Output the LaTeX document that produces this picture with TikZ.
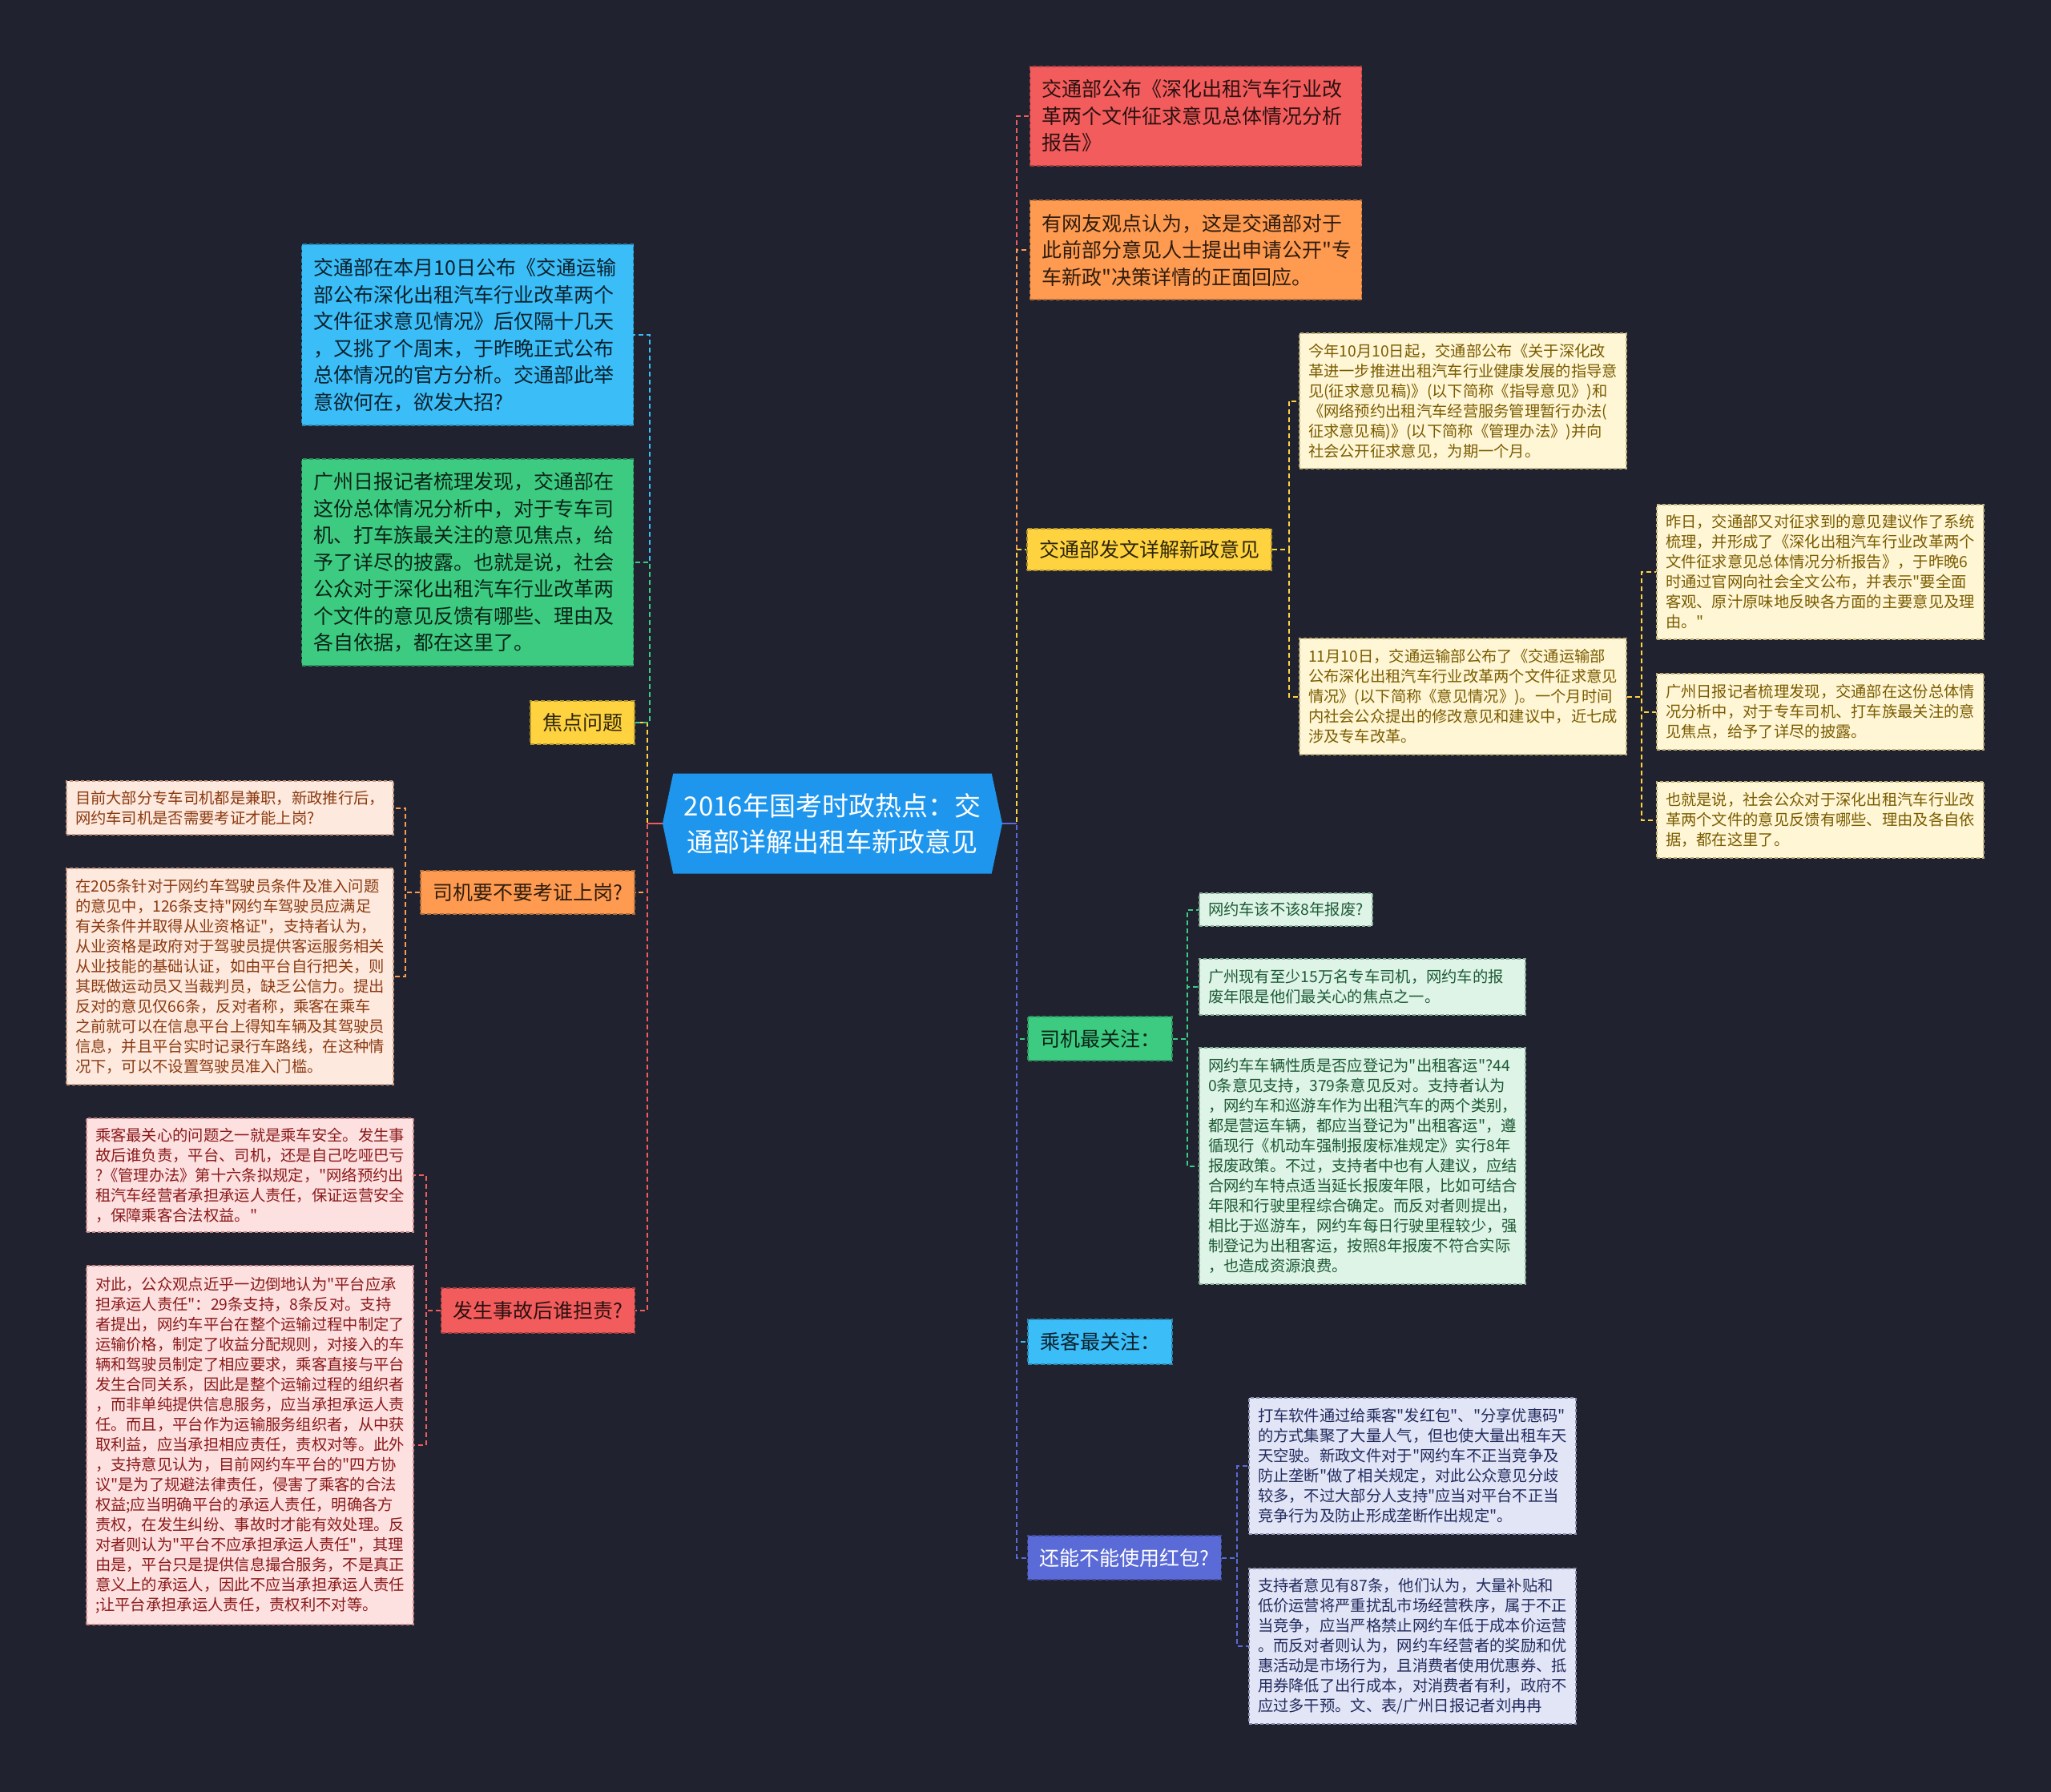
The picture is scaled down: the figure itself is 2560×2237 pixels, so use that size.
\documentclass[tikz,border=0pt]{standalone}
\usepackage{fontspec}
\newfontfamily\cjk{Noto Sans CJK SC}
\usetikzlibrary{shapes.symbols}

\definecolor{bgdark}{HTML}{20232F}
\definecolor{cRoot}{HTML}{1E96EE}
\definecolor{cRed}{HTML}{F25C5C}
\definecolor{cOrange}{HTML}{FF9B50}
\definecolor{cYellow}{HTML}{FFD33F}
\definecolor{cGreen}{HTML}{3DCB82}
\definecolor{cBlue}{HTML}{3BBDF8}
\definecolor{cIndigo}{HTML}{5A6AD6}
\definecolor{lYellow}{HTML}{FFF6D6}
\definecolor{tYellow}{HTML}{7A5C00}
\definecolor{lOrange}{HTML}{FDE9DE}
\definecolor{tOrange}{HTML}{8B3A10}
\definecolor{lRed}{HTML}{FDE0E0}
\definecolor{tRed}{HTML}{8B1A1A}
\definecolor{lGreen}{HTML}{DDF4E6}
\definecolor{tGreen}{HTML}{1E5A36}
\definecolor{lIndigo}{HTML}{E2E5F6}
\definecolor{tIndigo}{HTML}{222B5E}

\begin{document}
\begin{tikzpicture}[x=1pt,y=-1pt]
\tikzset{
  rootnode/.style={signal,signal to=east and west,signal pointer angle=156,fill=cRoot,text=white,
    font=\cjk\fontsize{33}{45}\selectfont,align=center,minimum width=424pt,minimum height=125pt,inner sep=0pt},
  topic/.style={rectangle,fill=#1,draw=#1!70!black,line width=1.5pt,dash pattern=on 5pt off 3pt,
    text=#1!18!black,font=\cjk\fontsize{25}{33.5}\selectfont,inner xsep=15pt,inner ysep=0pt,align=center},
  topicbox/.style={topic=#1,align=left,text width=384pt},
  leaf/.style={rectangle,fill=l#1,draw=t#1!45!l#1,line width=1.2pt,dash pattern=on 4pt off 3pt,
    text=t#1,font=\cjk\fontsize{19.3}{25}\selectfont,inner xsep=11pt,inner ysep=0pt,align=left,text width=386pt},
  conn/.style={draw=#1,line width=2pt,dash pattern=on 6pt off 4pt},
  stub/.style={draw=#1,line width=2pt}
}
\fill[bgdark] (0,0) rectangle (2560,2237);
\useasboundingbox (0,0) rectangle (2560,2237);

\node[rootnode] (n_root) at (1039,1028) {2016年国考时政热点：交\\通部详解出租车新政意见};

\node[topicbox=cBlue,minimum height=226pt] (n_L1a) at (583.5,418) {交通部在本月10日公布《交通运输\\部公布深化出租汽车行业改革两个\\文件征求意见情况》后仅隔十几天\\，又挑了个周末，于昨晚正式公布\\总体情况的官方分析。交通部此举\\意欲何在，欲发大招?};
\node[topicbox=cGreen,minimum height=258pt] (n_L1b) at (583.5,702) {广州日报记者梳理发现，交通部在\\这份总体情况分析中，对于专车司\\机、打车族最关注的意见焦点，给\\予了详尽的披露。也就是说，社会\\公众对于深化出租汽车行业改革两\\个文件的意见反馈有哪些、理由及\\各自依据，都在这里了。};
\node[topic=cYellow,minimum width=126pt,minimum height=54pt] (n_L1) at (727,902) {焦点问题};
\node[topic=cOrange,minimum width=263pt,minimum height=54pt] (n_L2) at (658.5,1114) {司机要不要考证上岗?};
\node[leaf=Orange,minimum height=67pt] (n_L2a) at (287,1008.5) {目前大部分专车司机都是兼职，新政推行后，\\网约车司机是否需要考证才能上岗?};
\node[leaf=Orange,minimum height=270pt] (n_L2b) at (287,1219) {在205条针对于网约车驾驶员条件及准入问题\\的意见中，126条支持"网约车驾驶员应满足\\有关条件并取得从业资格证"，支持者认为，\\从业资格是政府对于驾驶员提供客运服务相关\\从业技能的基础认证，如由平台自行把关，则\\其既做运动员又当裁判员，缺乏公信力。提出\\反对的意见仅66条，反对者称，乘客在乘车\\之前就可以在信息平台上得知车辆及其驾驶员\\信息，并且平台实时记录行车路线，在这种情\\况下，可以不设置驾驶员准入门槛。};
\node[topic=cRed,minimum width=237pt,minimum height=56pt] (n_L3) at (671.5,1636) {发生事故后谁担责?};
\node[leaf=Red,minimum height=142pt] (n_L3a) at (312,1467) {乘客最关心的问题之一就是乘车安全。发生事\\故后谁负责，平台、司机，还是自己吃哑巴亏\\?《管理办法》第十六条拟规定，"网络预约出\\租汽车经营者承担承运人责任，保证运营安全\\，保障乘客合法权益。"};
\node[leaf=Red,minimum height=448pt] (n_L3b) at (312,1804) {对此，公众观点近乎一边倒地认为"平台应承\\担承运人责任"：29条支持，8条反对。支持\\者提出，网约车平台在整个运输过程中制定了\\运输价格，制定了收益分配规则，对接入的车\\辆和驾驶员制定了相应要求，乘客直接与平台\\发生合同关系，因此是整个运输过程的组织者\\，而非单纯提供信息服务，应当承担承运人责\\任。而且，平台作为运输服务组织者，从中获\\取利益，应当承担相应责任，责权对等。此外\\，支持意见认为，目前网约车平台的"四方协\\议"是为了规避法律责任，侵害了乘客的合法\\权益;应当明确平台的承运人责任，明确各方\\责权，在发生纠纷、事故时才能有效处理。反\\对者则认为"平台不应承担承运人责任"，其理\\由是，平台只是提供信息撮合服务，不是真正\\意义上的承运人，因此不应当承担承运人责任\\;让平台承担承运人责任，责权利不对等。};

\node[topicbox=cRed,minimum height=124pt] (n_R1) at (1492.5,145) {交通部公布《深化出租汽车行业改\\革两个文件征求意见总体情况分析\\报告》};
\node[topicbox=cOrange,minimum height=124pt] (n_R2) at (1492.5,312) {有网友观点认为，这是交通部对于\\此前部分意见人士提出申请公开"专\\车新政"决策详情的正面回应。};
\node[topic=cYellow,minimum width=299pt,minimum height=52pt] (n_R3) at (1434.5,686) {交通部发文详解新政意见};
\node[leaf=Yellow,minimum height=169pt] (n_R3a) at (1826,500.5) {今年10月10日起，交通部公布《关于深化改\\革进一步推进出租汽车行业健康发展的指导意\\见(征求意见稿)》(以下简称《指导意见》)和\\《网络预约出租汽车经营服务管理暂行办法(\\征求意见稿)》(以下简称《管理办法》)并向\\社会公开征求意见，为期一个月。};
\node[leaf=Yellow,minimum height=145pt] (n_R3b) at (1826,869.5) {11月10日，交通运输部公布了《交通运输部\\公布深化出租汽车行业改革两个文件征求意见\\情况》(以下简称《意见情况》)。一个月时间\\内社会公众提出的修改意见和建议中，近七成\\涉及专车改革。};
\node[leaf=Yellow,minimum height=168pt] (n_R3b1) at (2272,714) {昨日，交通部又对征求到的意见建议作了系统\\梳理，并形成了《深化出租汽车行业改革两个\\文件征求意见总体情况分析报告》，于昨晚6\\时通过官网向社会全文公布，并表示"要全面\\客观、原汁原味地反映各方面的主要意见及理\\由。"};
\node[leaf=Yellow,minimum height=95pt] (n_R3b2) at (2272,888.5) {广州日报记者梳理发现，交通部在这份总体情\\况分析中，对于专车司机、打车族最关注的意\\见焦点，给予了详尽的披露。};
\node[leaf=Yellow,minimum height=95pt] (n_R3b3) at (2272,1023.5) {也就是说，社会公众对于深化出租汽车行业改\\革两个文件的意见反馈有哪些、理由及各自依\\据，都在这里了。};
\node[topic=cGreen,minimum width=176pt,minimum height=55pt] (n_R4) at (1373,1296.5) {司机最关注：};
\node[leaf=Green,text width=194pt,minimum height=41pt] (n_R4a) at (1605,1135.5) {网约车该不该8年报废?};
\node[leaf=Green,text width=385pt,minimum height=70pt] (n_R4b) at (1700.5,1232) {广州现有至少15万名专车司机，网约车的报\\废年限是他们最关心的焦点之一。};
\node[leaf=Green,text width=385pt,minimum height=295pt] (n_R4c) at (1700.5,1455.5) {网约车车辆性质是否应登记为"出租客运"?44\\0条意见支持，379条意见反对。支持者认为\\，网约车和巡游车作为出租汽车的两个类别，\\都是营运车辆，都应当登记为"出租客运"，遵\\循现行《机动车强制报废标准规定》实行8年\\报废政策。不过，支持者中也有人建议，应结\\合网约车特点适当延长报废年限，比如可结合\\年限和行驶里程综合确定。而反对者则提出，\\相比于巡游车，网约车每日行驶里程较少，强\\制登记为出租客运，按照8年报废不符合实际\\，也造成资源浪费。};
\node[topic=cBlue,minimum width=176pt,minimum height=56pt] (n_R5) at (1373,1675) {乘客最关注：};
\node[topic=cIndigo,text=white,minimum width=237pt,minimum height=55pt] (n_R6) at (1403.5,1944.5) {还能不能使用红包?};
\node[leaf=Indigo,minimum height=170pt] (n_R6a) at (1763,1830) {打车软件通过给乘客"发红包"、"分享优惠码"\\的方式集聚了大量人气，但也使大量出租车天\\天空驶。新政文件对于"网约车不正当竞争及\\防止垄断"做了相关规定，对此公众意见分歧\\较多，不过大部分人支持"应当对平台不正当\\竞争行为及防止形成垄断作出规定"。};
\node[leaf=Indigo,minimum height=194pt] (n_R6b) at (1763,2055) {支持者意见有87条，他们认为，大量补贴和\\低价运营将严重扰乱市场经营秩序，属于不正\\当竞争，应当严格禁止网约车低于成本价运营\\。而反对者则认为，网约车经营者的奖励和优\\惠活动是市场行为，且消费者使用优惠券、抵\\用券降低了出行成本，对消费者有利，政府不\\应过多干预。文、表/广州日报记者刘冉冉};

\draw[conn=cYellow] (n_root.west) -- ++(-19,0) |- (n_L1.east);
\draw[conn=cOrange] (n_root.west) -- ++(-19,0) |- (n_L2.east);
\draw[conn=cRed] (n_root.west) -- ++(-19,0) |- (n_L3.east);
\draw[conn=cRed] (n_root.east) -- ++(18,0) |- (n_R1.west);
\draw[conn=cOrange] (n_root.east) -- ++(18,0) |- (n_R2.west);
\draw[conn=cYellow] (n_root.east) -- ++(18,0) |- (n_R3.west);
\draw[conn=cGreen] (n_root.east) -- ++(18,0) |- (n_R4.west);
\draw[conn=cBlue] (n_root.east) -- ++(18,0) |- (n_R5.west);
\draw[conn=cIndigo] (n_root.east) -- ++(18,0) |- (n_R6.west);
\draw[stub=cRed] (n_root.west) -- ++(-19,0);
\draw[stub=cIndigo] (n_root.east) -- ++(18,0);
\draw[conn=cBlue] (n_L1.east) -- ++(18,0) |- (n_L1a.east);
\draw[conn=cGreen] (n_L1.east) -- ++(18,0) |- (n_L1b.east);
\draw[conn=cOrange] (n_L2.west) -- ++(-18,0) |- (n_L2a.east);
\draw[conn=cOrange] (n_L2.west) -- ++(-18,0) |- (n_L2b.east);
\draw[conn=cRed] (n_L3.west) -- ++(-18,0) |- (n_L3a.east);
\draw[conn=cRed] (n_L3.west) -- ++(-18,0) |- (n_L3b.east);
\draw[conn=cYellow] (n_R3.east) -- ++(21,0) |- (n_R3a.west);
\draw[conn=cYellow] (n_R3.east) -- ++(21,0) |- (n_R3b.west);
\draw[conn=cYellow] (n_R3b.east) -- ++(18,0) |- (n_R3b1.west);
\draw[conn=cYellow] (n_R3b.east) -- ++(18,0) |- (n_R3b2.west);
\draw[conn=cYellow] (n_R3b.east) -- ++(18,0) |- (n_R3b3.west);
\draw[conn=cGreen] (n_R4.east) -- ++(18,0) |- (n_R4a.west);
\draw[conn=cGreen] (n_R4.east) -- ++(18,0) |- (n_R4b.west);
\draw[conn=cGreen] (n_R4.east) -- ++(18,0) |- (n_R4c.west);
\draw[conn=cIndigo] (n_R6.east) -- ++(19,0) |- (n_R6a.west);
\draw[conn=cIndigo] (n_R6.east) -- ++(19,0) |- (n_R6b.west);
\end{tikzpicture}
\end{document}
